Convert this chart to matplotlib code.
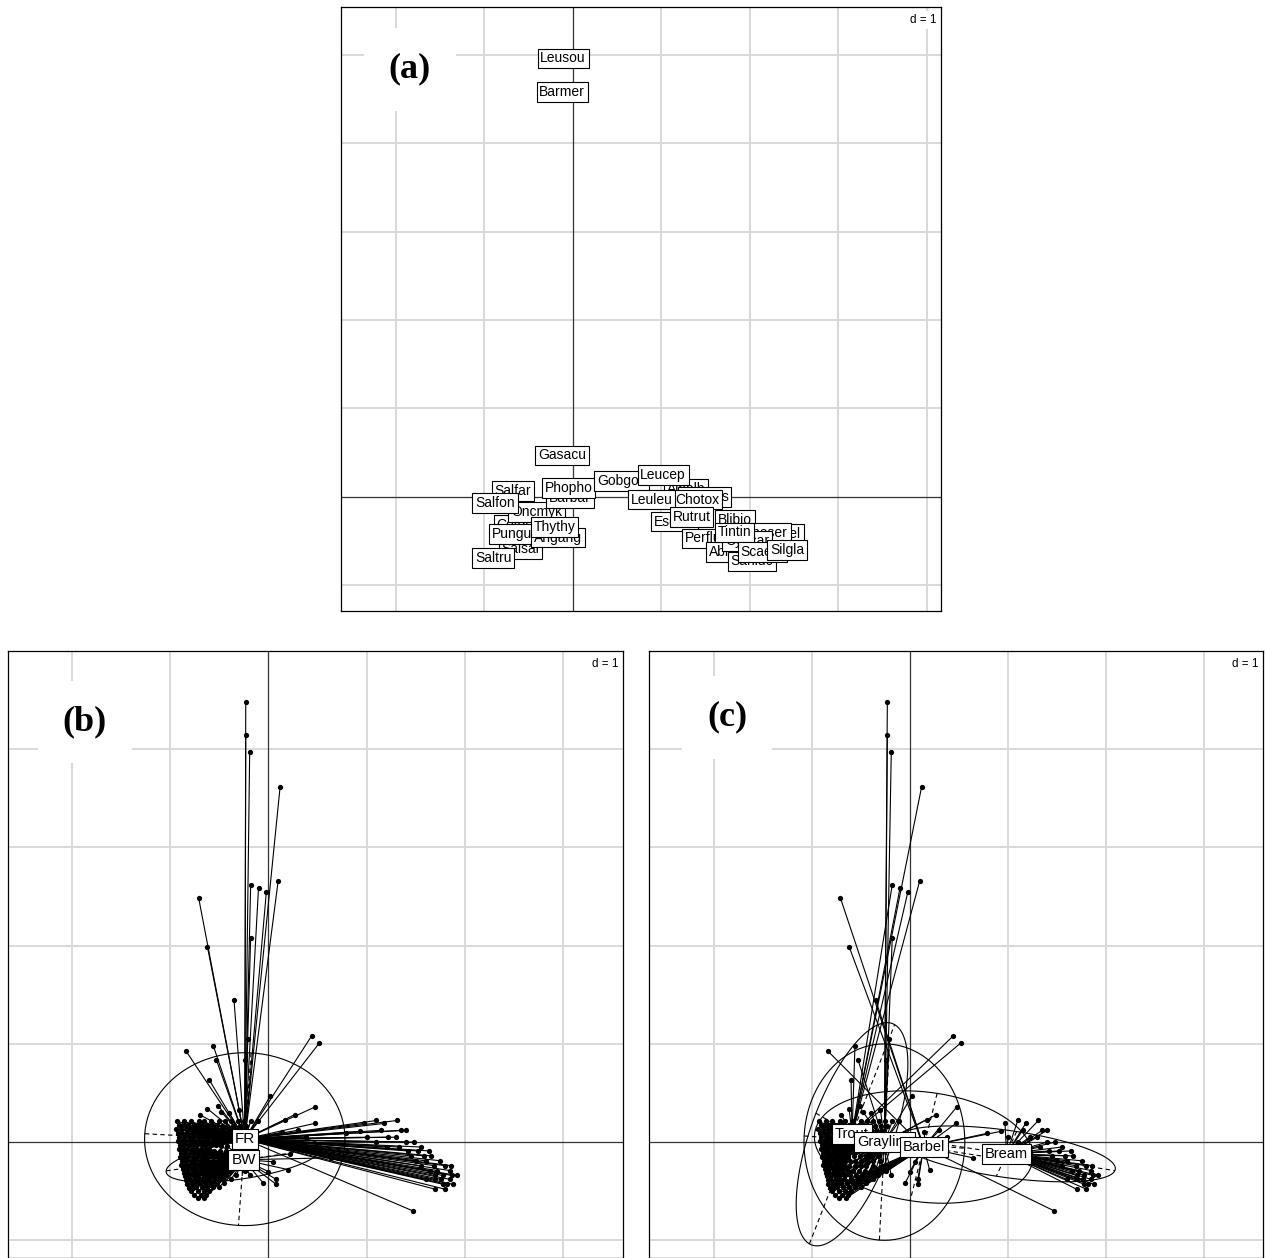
import numpy as np
import matplotlib.pyplot as plt

plt.rcParams['font.family'] = ['Liberation Sans', 'DejaVu Sans']

# ---- (a) species scores, in drawing order ----
species = ["Cotgob", "Salsal", "Pungun", "Saltru", "Oncmyk", "Barbar", "Salfar", "Salfon",
           "Phopho", "Angang", "Thythy", "Gasacu", "Leusou", "Barmer",
           "Gobgob", "Albalb", "Leucep", "Chonas", "Chotox", "Leuleu", "Blibjo", "Esoluc",
           "Rutrut", "Perflu", "Amemel", "Rhoser", "Abrbra", "Cypcar", "Tintin", "Sanluc",
           "Scaery", "Silgla"]
sp_x = [-0.61, -0.59, -0.64, -0.90, -0.41, -0.03, -0.68, -0.88,
        -0.05, -0.17, -0.21, -0.12, -0.11, -0.12,
        0.55, 1.28, 1.02, 1.49, 1.41, 0.89, 1.83, 1.15,
        1.34, 1.47, 2.29, 2.18, 1.77, 1.97, 1.83, 2.02,
        2.14, 2.42]
sp_y = [-0.32, -0.59, -0.42, -0.69, -0.17, -0.01, 0.07, -0.07,
        0.10, -0.46, -0.34, 0.47, 4.96, 4.58,
        0.18, 0.09, 0.25, 0.00, -0.03, -0.03, -0.26, -0.28,
        -0.23, -0.47, -0.42, -0.41, -0.62, -0.50, -0.40, -0.73,
        -0.62, -0.60]

# ---- (b)/(c) site scores by fish zone ----
# scattered sites: x, y and region (F = FR, B = BW)
trout_x = [-0.18, -0.10, -0.02, 0.10, 0.12, -0.56, -0.60, 0.44, 0.52, -0.62, -0.51, -0.70]
trout_y = [2.62, 2.59, 2.55, 2.66, 3.62, 0.98, 0.63, 1.08, 1.01, 0.34, 0.37, 0.28]
trout_reg = "FFFFFFFFFFFF"
grayling_x = [-0.23, -0.23, -0.19, -0.18, -0.53, 0.02, -0.21, -0.24, -0.48, -0.40, -0.30,
              0.17, 0.27]
grayling_y = [4.48, 4.14, 3.97, 2.08, 0.84, 0.47, 1.05, 0.84, 0.31, 0.30, 0.33,
              0.23, 0.28]
grayling_reg = "FFFFFFFFFFFFF"
barbel_x = [-0.71, -0.62, -0.35, -0.84, 1.47, 0.20, 0.08, 0.08, 0.05, 0.64, 0.48, 0.47,
            0.93, 0.79, 0.30, 0.38, 0.14, 0.22, 0.00, -0.05]
barbel_y = [2.49, 1.99, 1.45, 0.93, -0.70, -0.28, -0.38, -0.43, -0.20, -0.16, 0.36, 0.19,
            0.11, 0.09, 0.12, 0.05, 0.10, -0.12, -0.30, -0.42]
barbel_reg = "FFFFFBBBBBFFFFFFFBBB"
bream_x = []
bream_y = []
bream_reg = ""

# dense sites, listed row by row: row ordinate, abscissas of the sites on it, region per row
trout_rows_y = [0.21, 0.17, 0.13, 0.09, 0.05, 0.01, -0.03, -0.07, -0.11, -0.15,
                -0.19, -0.23, -0.27, -0.31, -0.35, -0.39, -0.43, -0.47]
trout_rows_x = [
    [-0.93, -0.86, -0.79, -0.71, -0.66, -0.58],
    [-0.91, -0.87, -0.82, -0.76, -0.73, -0.68, -0.62, -0.57, -0.52],
    [-0.94, -0.89, -0.84, -0.80, -0.75, -0.70, -0.64, -0.60, -0.55],
    [-0.92, -0.88, -0.83, -0.78, -0.74, -0.69, -0.65, -0.59, -0.54, -0.50],
    [-0.91, -0.86, -0.81, -0.77, -0.72, -0.67, -0.62, -0.57, -0.52],
    [-0.92, -0.88, -0.84, -0.79, -0.75, -0.70, -0.66, -0.61, -0.55],
    [-0.90, -0.86, -0.81, -0.77, -0.73, -0.68, -0.63, -0.58, -0.53],
    [-0.91, -0.87, -0.83, -0.78, -0.74, -0.69, -0.64, -0.60],
    [-0.89, -0.85, -0.80, -0.76, -0.71, -0.67, -0.62, -0.57],
    [-0.90, -0.86, -0.82, -0.77, -0.73, -0.68, -0.63],
    [-0.88, -0.84, -0.79, -0.75, -0.70, -0.66, -0.61],
    [-0.89, -0.85, -0.81, -0.76, -0.72, -0.67],
    [-0.87, -0.83, -0.78, -0.74, -0.69, -0.65],
    [-0.86, -0.82, -0.77, -0.73, -0.68],
    [-0.85, -0.81, -0.76, -0.72],
    [-0.84, -0.80, -0.75, -0.71],
    [-0.83, -0.78, -0.74],
    [-0.81, -0.77]]
trout_rows_reg = "FFFFFFFBBBBBBBBBBB"

grayling_rows_y = [0.21, 0.16, 0.11, 0.06, 0.01, -0.04, -0.09, -0.14, -0.19, -0.24,
                   -0.29, -0.34, -0.38]
grayling_rows_x = [
    [-0.50, -0.44, -0.38, -0.31, -0.25, -0.18, -0.11],
    [-0.47, -0.42, -0.36, -0.29, -0.23],
    [-0.46, -0.40, -0.34, -0.28],
    [-0.45, -0.39, -0.33, -0.27],
    [-0.49, -0.44, -0.37, -0.30],
    [-0.48, -0.42, -0.35, -0.29],
    [-0.55, -0.49, -0.43, -0.37, -0.31],
    [-0.57, -0.51, -0.45, -0.39, -0.33],
    [-0.56, -0.50, -0.44, -0.38, -0.30],
    [-0.62, -0.56, -0.50, -0.45, -0.38, -0.28],
    [-0.63, -0.58, -0.52, -0.46, -0.40, -0.24],
    [-0.66, -0.61, -0.55, -0.49, -0.43, -0.33, -0.19],
    [-0.67, -0.60, -0.53, -0.46, -0.38]]
grayling_rows_reg = "FFFFFBBBBBBBB"

barbel_rows_y = [-0.42, -0.46, -0.50, -0.54, -0.57]
barbel_rows_x = [
    [-0.70, -0.64, -0.58, -0.52, -0.45],
    [-0.74, -0.68, -0.62, -0.56, -0.50],
    [-0.79, -0.72, -0.66, -0.60],
    [-0.76, -0.69, -0.63],
    [-0.72, -0.65]]
barbel_rows_reg = "BBBBB"

bream_rows_y = [0.22, 0.19, 0.12, 0.05, 0.00, -0.05, -0.09, -0.14, -0.19, -0.24,
                -0.29, -0.34, -0.38, -0.43, -0.48]
bream_rows_x = [
    [1.10, 1.31], [0.97, 1.18], [1.15, 1.35, 1.40], [1.00, 1.22, 1.30],
    [1.10, 1.40, 1.48], [1.21, 1.33, 1.55], [1.42, 1.52, 1.64], [1.45, 1.58, 1.66],
    [1.50, 1.60, 1.75], [1.55, 1.69, 1.80, 1.86], [1.65, 1.72, 1.85],
    [1.70, 1.78, 1.87, 1.92], [1.60, 1.70, 1.76, 1.85], [1.78, 1.82, 1.88], [1.70, 1.80]]
bream_rows_reg = "FFFFFFFFFFFFFFF"

# group centres and ellipse shapes (centre x, centre y, semi-axis 1, semi-axis 2, angle deg)
zones = ["Trout", "Grayling", "Barbel", "Bream"]
zone_ell = [(-0.59, 0.08, 1.20, 0.42, 70.0),
            (-0.26, 0.00, 1.00, 0.82, 90.0),
            (0.14, -0.05, 1.12, 0.56, -7.0),
            (0.985, -0.12, 1.12, 0.24, -8.0)]
regions = ["FR", "BW"]
region_ell = [(-0.24, 0.03, 1.02, 0.88, 0.0),
              (-0.25, -0.18, 0.80, 0.19, 9.0)]

zone_sites = [(trout_x, trout_y, trout_reg, trout_rows_y, trout_rows_x, trout_rows_reg),
              (grayling_x, grayling_y, grayling_reg, grayling_rows_y, grayling_rows_x,
               grayling_rows_reg),
              (barbel_x, barbel_y, barbel_reg, barbel_rows_y, barbel_rows_x, barbel_rows_reg),
              (bream_x, bream_y, bream_reg, bream_rows_y, bream_rows_x, bream_rows_reg)]

W, H = 1266, 1258
fig = plt.figure(figsize=(W / 100, H / 100), dpi=100)


def add_panel(left, top, right, bottom, xlim, ylim):
    ax = fig.add_axes([left / W, 1 - bottom / H, (right - left) / W, (bottom - top) / H])
    ax.set_xlim(*xlim)
    ax.set_ylim(*ylim)
    ax.set_xticks([])
    ax.set_yticks([])
    for s in ax.spines.values():
        s.set_linewidth(0.9)
    for g in range(int(np.ceil(xlim[0])), int(np.floor(xlim[1])) + 1):
        if g != 0:
            ax.axvline(g, color="#d9d9d9", lw=1.4, zorder=0)
    for g in range(int(np.ceil(ylim[0])), int(np.floor(ylim[1])) + 1):
        if g != 0:
            ax.axhline(g, color="#d9d9d9", lw=1.4, zorder=0)
    ax.axvline(0, color="#333333", lw=0.9, zorder=0.5)
    ax.axhline(0, color="#333333", lw=0.9, zorder=0.5)
    ax.text(0.993, 0.988, "d = 1", transform=ax.transAxes, ha="right", va="top",
            fontsize=8.5, zorder=6,
            bbox=dict(facecolor="white", edgecolor="none", pad=2))
    return ax


def panel_tag(ax, tag, fx, fy):
    ax.text(fx, fy, tag, transform=ax.transAxes, ha="center", va="center",
            fontsize=26, fontweight="bold", family="Liberation Serif", zorder=7,
            bbox=dict(facecolor="white", edgecolor="none", pad=18))


def box_label(ax, x, y, s, size=10):
    ax.text(x, y, s, ha="center", va="center", fontsize=size, zorder=8,
            bbox=dict(boxstyle="square,pad=0.2", facecolor="white",
                      edgecolor="black", linewidth=0.8))


def ellipse(ax, cx, cy, a, b, ang):
    t = np.linspace(0, 2 * np.pi, 101)[:-1]
    th = np.deg2rad(ang)
    ex = cx + a * np.cos(t) * np.cos(th) - b * np.sin(t) * np.sin(th)
    ey = cy + a * np.cos(t) * np.sin(th) + b * np.sin(t) * np.cos(th)
    ax.plot([ex[49], ex[99]], [ey[49], ey[99]], color="black", lw=0.8, ls=(0, (4, 3)), zorder=3)
    ax.plot([ex[24], ex[74]], [ey[24], ey[74]], color="black", lw=0.8, ls=(0, (4, 3)), zorder=3)
    ax.fill(ex, ey, facecolor="none", edgecolor="black", lw=0.8, zorder=3)


# ---- panel (a) ----
ax_a = add_panel(341, 7, 941, 611, (-2.62, 4.16), (-1.29, 5.54))
for name, x, y in zip(species, sp_x, sp_y):
    box_label(ax_a, x, y, name)
panel_tag(ax_a, "(a)", 0.115, 0.897)

# ---- panels (b) and (c) ----
ax_b = add_panel(8, 651, 623, 1258, (-2.65, 3.61), (-1.18, 5.0))
ax_c = add_panel(649, 651, 1263, 1258, (-2.66, 3.60), (-1.18, 5.0))

all_x, all_y = [], []
for k, (sx, sy, sreg, ry, rx, rreg) in enumerate(zone_sites):
    xs, ys, reg = list(sx), list(sy), list(sreg)
    for yy, row, r in zip(ry, rx, rreg):
        xs += row
        ys += [yy] * len(row)
        reg += [r] * len(row)
    cx, cy = zone_ell[k][0], zone_ell[k][1]
    for x, y, r in zip(xs, ys, reg):
        ax_c.plot([cx, x], [cy, y], color="black", lw=0.8, zorder=2)
        rc = region_ell[0] if r == "F" else region_ell[1]
        ax_b.plot([rc[0], x], [rc[1], y], color="black", lw=0.8, zorder=2)
    all_x += xs
    all_y += ys

for e in region_ell:
    ellipse(ax_b, *e)
for e in zone_ell:
    ellipse(ax_c, *e)

for ax in (ax_b, ax_c):
    ax.plot(all_x, all_y, "o", color="black", ms=3.8, mew=0, zorder=4)

for name, e in zip(regions, region_ell):
    box_label(ax_b, e[0], e[1], name, size=11)
for name, e in zip(zones, zone_ell):
    box_label(ax_c, e[0], e[1], name, size=10.5)

panel_tag(ax_b, "(b)", 0.125, 0.883)
panel_tag(ax_c, "(c)", 0.127, 0.891)

fig.savefig("out.png", dpi=100)
